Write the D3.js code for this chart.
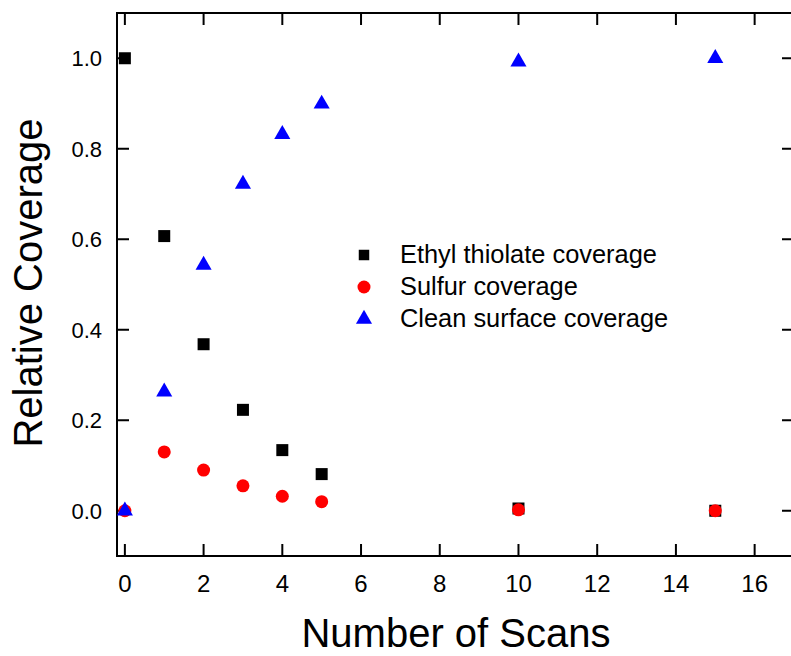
<!DOCTYPE html>
<html>
<head>
<meta charset="utf-8">
<script src="https://cdn.jsdelivr.net/npm/d3@7"></script>
<style>
  html, body { margin: 0; padding: 0; background: #fff; }
  svg { display: block; font-family: "Liberation Sans", Arial, sans-serif; }
</style>
</head>
<body>
<div id="chart"></div>
<script>
// scan number and relative coverage of each species
const scans = [0, 1, 2, 3, 4, 5, 10, 15];
const thiolate = [1.0, 0.607, 0.368, 0.223, 0.134, 0.081, 0.005, 0.0];
const sulfur = [0.0, 0.130, 0.090, 0.055, 0.032, 0.020, 0.002, 0.0];
const clean = [0.0, 0.263, 0.543, 0.722, 0.832, 0.899, 0.992, 1.0];

const xTicks = [0, 2, 4, 6, 8, 10, 12, 14, 16];
const yTicks = [0, 0.2, 0.4, 0.6, 0.8, 1.0];

const seriesNames = ["Ethyl thiolate coverage", "Sulfur coverage", "Clean surface coverage"];

const W = 791, H = 656;
const margin = { top: 13, right: -3, bottom: 100, left: 117 };

const svg = d3.select("#chart").append("svg")
  .attr("width", W).attr("height", H);

const x = d3.scaleLinear().domain([-0.2, 17]).range([margin.left, W - margin.right]);
const y = d3.scaleLinear().domain([-0.1, 1.1]).range([H - margin.bottom, margin.top]);

const x0 = margin.left, x1 = W - margin.right;
const y0 = H - margin.bottom, y1 = margin.top;
const tick = 12;

// frame + mirrored inward ticks
const axes = svg.append("g").attr("stroke", "#000").attr("fill", "none");
axes.append("rect").attr("x", x0).attr("y", y1)
  .attr("width", x1 - x0).attr("height", y0 - y1).attr("stroke-width", 2);

xTicks.forEach(t => {
  axes.append("line").attr("x1", x(t)).attr("x2", x(t)).attr("y1", y0).attr("y2", y0 - tick).attr("stroke-width", 2);
  axes.append("line").attr("x1", x(t)).attr("x2", x(t)).attr("y1", y1).attr("y2", y1 + tick).attr("stroke-width", 2);
});
yTicks.forEach(t => {
  axes.append("line").attr("x1", x0).attr("x2", x0 + tick).attr("y1", y(t)).attr("y2", y(t)).attr("stroke-width", 2);
  axes.append("line").attr("x1", x1).attr("x2", x1 - tick).attr("y1", y(t)).attr("y2", y(t)).attr("stroke-width", 2);
});

// tick labels
svg.append("g").selectAll("text").data(xTicks).join("text")
  .attr("x", d => x(d)).attr("y", y0 + 36)
  .attr("text-anchor", "middle").attr("font-size", 24).text(d => d);
svg.append("g").selectAll("text").data(yTicks).join("text")
  .attr("x", x0 - 15).attr("y", d => y(d)).attr("dy", "0.36em")
  .attr("text-anchor", "end").attr("font-size", 22).text(d => d.toFixed(1));

// axis titles
svg.append("text")
  .attr("x", 456).attr("y", 647)
  .attr("text-anchor", "middle").attr("font-size", 40).text("Number of Scans");
svg.append("text")
  .attr("transform", `translate(42,${283}) rotate(-90)`)
  .attr("text-anchor", "middle").attr("font-size", 40).text("Relative Coverage");

// markers
const sq = d3.symbol().type(d3.symbolSquare).size(144);
const ci = d3.symbol().type(d3.symbolCircle).size(133);
const tr = d3.symbol().type(d3.symbolTriangle).size(112);

const series = [
  { vals: thiolate, sym: sq, color: "#000000" },
  { vals: sulfur, sym: ci, color: "#ff0000" },
  { vals: clean, sym: tr, color: "#0000ff" },
];

series.forEach(s => {
  svg.append("g").selectAll("path").data(scans).join("path")
    .attr("transform", (d, i) => `translate(${x(d)},${y(s.vals[i])})`)
    .attr("d", s.sym).attr("fill", s.color);
});

// legend
const legendSyms = [
  d3.symbol().type(d3.symbolSquare).size(110),
  d3.symbol().type(d3.symbolCircle).size(133),
  d3.symbol().type(d3.symbolTriangle).size(112),
];
const leg = svg.append("g");
seriesNames.forEach((name, i) => {
  const by = 263 + i * 32;
  leg.append("path").attr("transform", `translate(364,${by - 8})`)
    .attr("d", legendSyms[i]).attr("fill", series[i].color);
  leg.append("text").attr("x", 400).attr("y", by)
    .attr("font-size", 25.4).text(name);
});
</script>
</body>
</html>
